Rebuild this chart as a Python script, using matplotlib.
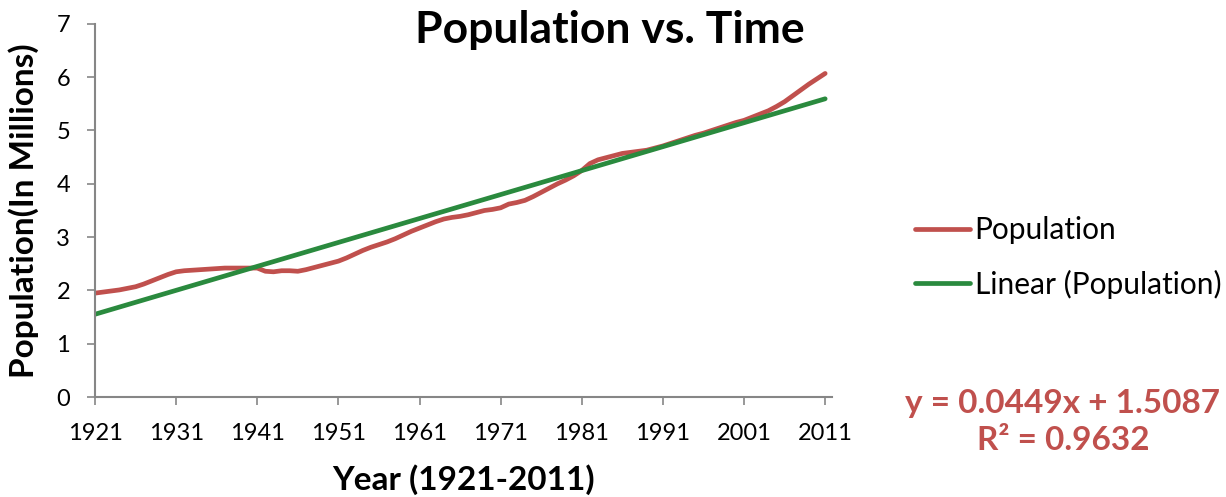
import numpy as np
from matplotlib import pyplot as plt

years = list(range(1921, 2012))
population = [
    1.95, 1.97, 1.99, 2.01, 2.04, 2.07, 2.12, 2.18, 2.24, 2.30,   # 1921-1930
    2.35, 2.37, 2.38, 2.39, 2.40, 2.41, 2.42, 2.42, 2.42, 2.42,   # 1931-1940
    2.42, 2.36, 2.35, 2.37, 2.37, 2.36, 2.39, 2.43, 2.47, 2.51,   # 1941-1950
    2.55, 2.61, 2.68, 2.75, 2.81, 2.86, 2.91, 2.97, 3.04, 3.11,   # 1951-1960
    3.17, 3.23, 3.29, 3.34, 3.37, 3.39, 3.42, 3.46, 3.50, 3.52,   # 1961-1970
    3.55, 3.62, 3.65, 3.69, 3.76, 3.84, 3.92, 4.00, 4.07, 4.15,   # 1971-1980
    4.25, 4.38, 4.45, 4.49, 4.53, 4.57, 4.59, 4.61, 4.63, 4.67,   # 1981-1990
    4.71, 4.76, 4.81, 4.86, 4.91, 4.95, 5.00, 5.05, 5.10, 5.15,   # 1991-2000
    5.19, 5.25, 5.31, 5.37, 5.45, 5.54, 5.65, 5.76, 5.87, 5.97,   # 2001-2010
    6.07,                                                         # 2011
]
trend_slope = 0.0449
trend_intercept = 1.5087
trend_r2 = 0.9632
x_ticks = list(range(1921, 2012, 10))
y_ticks = list(range(0, 8))

RED = '#C0504D'
GREEN = '#2A8A3E'
AXIS = '#868686'

plt.rcParams['font.family'] = ['Lato', 'DejaVu Sans']

fig = plt.figure(figsize=(12.26, 4.97), dpi=100)
ax = fig.add_axes([0.0775, 0.201, 0.6015, 0.751])

# trendline uses the category index (1..91) like the spreadsheet did
idx = np.arange(1, len(years) + 1)
trend = trend_slope * idx + trend_intercept

pop_line, = ax.plot(years, population, color=RED, lw=3.4, solid_capstyle='round',
                    solid_joinstyle='round', label='Population')
trend_line, = ax.plot(years, trend, color=GREEN, lw=3.4, solid_capstyle='round',
                      label='Linear (Population)')

ax.set_xlim(1921, 2011.9)
ax.set_ylim(0, 7)
ax.set_xticks(x_ticks)
ax.set_yticks(y_ticks)
ax.tick_params(axis='both', direction='out', length=6, width=1.2, color=AXIS,
               labelsize=17, labelcolor='black')
ax.tick_params(axis='x', pad=13)
ax.tick_params(axis='y', pad=12)
for side in ['top', 'right']:
    ax.spines[side].set_visible(False)
for side in ['left', 'bottom']:
    ax.spines[side].set_color(AXIS)
    ax.spines[side].set_linewidth(1.5)

fig.text(0.4975, 0.94, 'Population vs. Time', ha='center', va='center',
         fontsize=32, fontweight='bold')
ax.set_xlabel('Year (1921-2011)', fontsize=24, fontweight='bold', labelpad=14)
ax.set_ylabel('Population(In Millions)', fontsize=24, fontweight='bold', labelpad=12)

fig.legend(handles=[pop_line, trend_line], loc='center left',
           bbox_to_anchor=(0.746, 0.482), frameon=False, fontsize=21.5,
           handlelength=1.84, handletextpad=0.17, labelspacing=0.84, borderaxespad=0,
           borderpad=0)

fig.text(0.867, 0.151,
         f'y = {trend_slope:.4f}x + {trend_intercept:.4f}\nR² = {trend_r2:.4f}',
         ha='center', va='center', fontsize=24, fontweight='bold', color=RED,
         linespacing=1.3)

fig.savefig('out.png', dpi=100)
